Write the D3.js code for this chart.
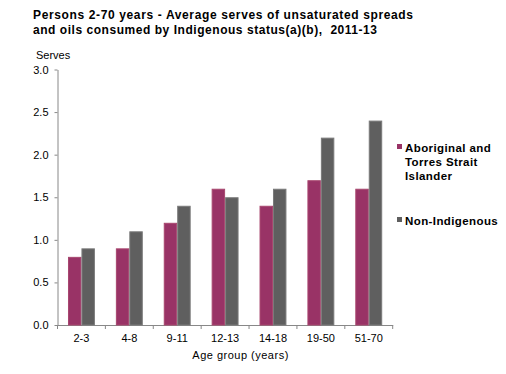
<!DOCTYPE html>
<html><head><meta charset="utf-8">
<script src="https://cdn.jsdelivr.net/npm/d3@7"></script>
<style>body{margin:0;background:#fff}svg{display:block}text{font-family:"Liberation Sans",Arial,sans-serif;fill:#000}</style>
</head><body>
<script>
const categories = ["2-3","4-8","9-11","12-13","14-18","19-50","51-70"];
const seriesNames = ["Aboriginal and Torres Strait Islander","Non-Indigenous"];
const aboriginal = [0.8,0.9,1.2,1.6,1.4,1.7,1.6];
const nonIndigenous = [0.9,1.1,1.4,1.5,1.6,2.2,2.4];
const yTicks = [0,0.5,1.0,1.5,2.0,2.5,3.0];
const colors = ["#993366","#5f5f5f"];
const strokes = ["#a8476f","#7a7a7a"];

const W=506,H=374;
const svg=d3.select("body").append("svg").attr("width",W).attr("height",H);
const m={l:57.5,r:392.7,t:69.5,b:325};
const x=d3.scaleBand().domain(categories).range([m.l,m.r]);
const inner=d3.scaleBand().domain([0,1]).range([0,x.bandwidth()]).paddingOuter(0.78).paddingInner(0);
const y=d3.scaleLinear().domain([0,3]).range([m.b,m.t]);

function fit(sel,target){
  const n=sel.node(); const w=n.getComputedTextLength(); const c=n.textContent.length;
  sel.style("letter-spacing",((target-w)/(c-1))+"px");
}

// title
const titleLines=[["Persons 2-70 years - Average serves of unsaturated spreads",19,380],
                  ["and oils consumed by Indigenous status(a)(b),\u00a0 2011-13",34,344]];
titleLines.forEach(([t,yy,len])=>{
  const s=svg.append("text").attr("x",33).attr("y",yy)
    .style("font-weight","bold").style("font-size","12px").text(t);
  fit(s,len);
});

svg.append("text").attr("x",36).attr("y",59).style("font-size",11+"px").text("Serves");

// y axis
const ya=svg.append("g").attr("transform",`translate(${m.l},0)`)
 .call(d3.axisLeft(y).tickValues(yTicks).tickFormat(d3.format(".1f")).tickSize(3).tickSizeOuter(0));
ya.select(".domain").attr("stroke","#888");
ya.selectAll(".tick line").attr("stroke","#888");
ya.selectAll(".tick text").attr("x",-9).style("font-size","11px").style("font-family","Liberation Sans, Arial, sans-serif").attr("fill","#000");

// x axis
const xa=svg.append("g").attr("transform",`translate(0,${m.b})`)
 .call(d3.axisBottom(x).tickSize(0).tickPadding(9));
xa.select(".domain").attr("stroke","#888");
xa.selectAll(".tick text").style("font-size","11px").style("font-family","Liberation Sans, Arial, sans-serif").attr("fill","#000");
svg.append("g").selectAll("line").data(categories.map((c,i)=>i).concat([categories.length]))
 .join("line").attr("x1",i=>i<categories.length?x(categories[i]):x(categories[i-1])+x.bandwidth())
 .attr("x2",i=>i<categories.length?x(categories[i]):x(categories[i-1])+x.bandwidth())
 .attr("y1",m.b).attr("y2",m.b+4).attr("stroke","#888");

const at=svg.append("text").attr("x",192.3).attr("y",359).style("font-size","11px").text("Age group (years)");
fit(at,96);

// bars
const series=[aboriginal,nonIndigenous];
series.forEach((vals,si)=>{
  svg.append("g").selectAll("rect").data(vals).join("rect")
   .attr("x",(d,i)=>x(categories[i])+inner(si)+0.5)
   .attr("width",inner.bandwidth()-1)
   .attr("y",d=>y(d)+0.5)
   .attr("height",d=>y(0)-y(d)-0.5)
   .attr("fill",colors[si]).attr("stroke",strokes[si]).attr("stroke-width",1);
});

// legend
const lg=svg.append("g");
const legendLines=[["Aboriginal and","Torres Strait","Islander"],["Non-Indigenous"]];
const legendY=[152,225];
legendLines.forEach((lines,i)=>{
  lg.append("rect").attr("x",397).attr("y",legendY[i]-8).attr("width",5).attr("height",5).attr("fill",colors[i]);
  const t=lg.append("text").attr("x",405).attr("y",legendY[i]).style("font-weight","bold").style("font-size","11.5px").style("letter-spacing","0.4px");
  lines.forEach((l,j)=>t.append("tspan").attr("x",405).attr("y",legendY[i]+j*14).text(l));
});
</script>
</body></html>
